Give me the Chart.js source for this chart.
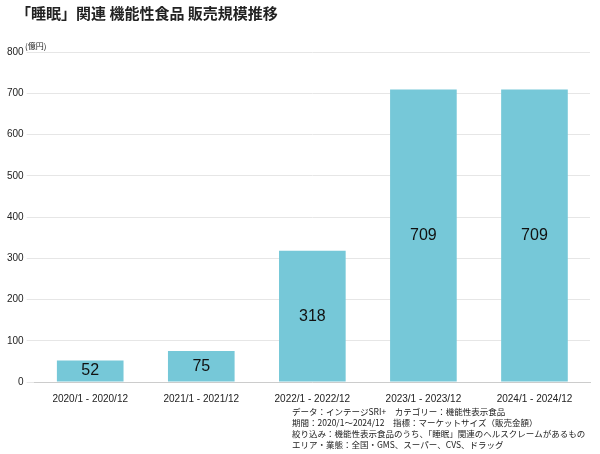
<!DOCTYPE html>
<html><head><meta charset="utf-8">
<script src="https://cdn.jsdelivr.net/npm/chart.js@4"></script>
<style>body{margin:0;background:#fff}#wrap{width:600px;height:454px}</style>
</head><body><div id="wrap"><canvas id="chart"></canvas></div>
<script>
const categories = ["2020/1 - 2020/12", "2021/1 - 2021/12", "2022/1 - 2022/12", "2023/1 - 2023/12", "2024/1 - 2024/12"];
const sales = [52, 75, 318, 709, 709];
const notes = [
  "データ：インテージSRI+　カテゴリー：機能性表示食品",
  "期間：2020/1～2024/12　指標：マーケットサイズ（販売金額）",
  "絞り込み：機能性表示食品のうち、「睡眠」関連のヘルスクレームがあるもの",
  "エリア・業態：全国・GMS、スーパー、CVS、ドラッグ"
];
const FONT = "'Noto Sans CJK JP', 'Noto Sans', sans-serif";

// title, unit, notes and value labels
const extras = {
  id: "extras",
  afterDraw(c) {
    const ctx = c.ctx;
    ctx.save();
    ctx.fillStyle = "#222";
    ctx.textBaseline = "middle";
    ctx.font = "bold 15px " + FONT;
    ctx.fillText("「睡眠」関連 機能性食品 販売規模推移", 16, 13);
    const y = c.scales.y;
    ctx.font = "8px " + FONT;
    ctx.fillText("(億円)", 25, y.getPixelForValue(800) - 6);
    ctx.font = "8.5px " + FONT;
    notes.forEach((t, i) => ctx.fillText(t, 292, 412 + i * 11));
    ctx.font = "16px Arial, 'Liberation Sans', sans-serif";
    ctx.textAlign = "center";
    ctx.fillStyle = "#111";
    c.getDatasetMeta(0).data.forEach((bar, i) => {
      ctx.fillText(sales[i], bar.x, (bar.y + bar.base) / 2);
    });
    ctx.restore();
  }
};

new Chart(document.querySelector("#chart").getContext("2d"), {
  type: "bar",
  data: {
    labels: categories,
    datasets: [{ data: sales, backgroundColor: "#76c8d8", categoryPercentage: 1, barPercentage: 0.6 }]
  },
  options: {
    responsive: true,
    maintainAspectRatio: false,
    animation: false,
    layout: { padding: { top: 52, bottom: 46, right: 10, left: 4 } },
    plugins: { legend: { display: false }, tooltip: { enabled: false } },
    scales: {
      x: {
        grid: { display: false },
        border: { color: "#ccc" },
        ticks: { color: "#222", font: { size: 10, family: "Arial" }, maxRotation: 0 }
      },
      y: {
        min: 0, max: 800,
        ticks: { stepSize: 100, color: "#222", font: { size: 10, family: "Arial" } },
        grid: { color: "#e6e6e6" },
        border: { display: false }
      }
    }
  },
  plugins: [extras]
});
</script></body></html>
